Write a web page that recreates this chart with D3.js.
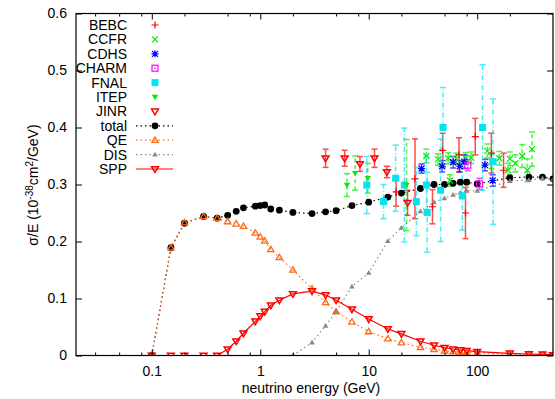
<!DOCTYPE html>
<html>
<head>
<meta charset="utf-8">
<script src="https://cdn.jsdelivr.net/npm/d3@7"></script>
<style>
  body { margin: 0; background: #fff; }
  text { font-family: "Liberation Sans", Arial, sans-serif; }
</style>
</head>
<body>
<script>
// model curves: [energy GeV, sigma/E]
var TOTAL = [[0.1,0],[0.15,0.189],[0.2,0.232],[0.3,0.244],[0.4,0.241],[0.5,0.246],[0.6,0.253],[0.7,0.259],
  [0.9,0.262],[1.0,0.263],[1.1,0.264],[1.25,0.257],[1.5,0.255],[2,0.251],[3,0.249],[4,0.252],[5,0.254],
  [7,0.263],[10,0.269],[15,0.278],[20,0.285],[30,0.293],[40,0.300],[50,0.300],[60,0.302],[70,0.304],
  [80,0.304],[100,0.301],[200,0.312],[300,0.313],[400,0.313],[500,0.310]];
var QE = [[0.1,0],[0.15,0.189],[0.2,0.233],[0.3,0.244],[0.4,0.241],[0.5,0.235],[0.6,0.231],[0.7,0.227],
  [0.9,0.215],[1.0,0.208],[1.1,0.201],[1.25,0.186],[1.5,0.172],[2,0.150],[3,0.117],[4,0.093],[5,0.077],
  [7,0.059],[10,0.042],[15,0.0295],[20,0.0225],[30,0.0144],[40,0.0109],[50,0.008],[60,0.0067],[70,0.006],
  [80,0.0056],[100,0.0044],[200,0.002],[300,0.0015],[400,0.001],[500,0.001]];
var DIS = [[2,0],[3,0.023],[4,0.052],[5,0.077],[7,0.121],[10,0.145],[15,0.201],[20,0.224],[30,0.253],
  [40,0.269],[50,0.276],[60,0.282],[70,0.286],[80,0.289],[100,0.289],[200,0.306],[300,0.308],[400,0.311],[500,0.309]];
var SPP = [[0.1,0],[0.15,0],[0.2,0],[0.3,0],[0.4,0],[0.5,0.011],[0.6,0.025],[0.7,0.039],[0.9,0.060],
  [1.0,0.069],[1.1,0.077],[1.25,0.088],[1.5,0.097],[2,0.108],[3,0.113],[4,0.106],[5,0.097],[7,0.081],
  [10,0.064],[15,0.0465],[20,0.038],[30,0.025],[40,0.018],[50,0.0137],[60,0.011],[70,0.0096],[80,0.0084],
  [100,0.0067],[200,0.0039],[300,0.0026],[400,0.002],[500,0.001]];

// measurements: [energy GeV, sigma/E, error]
var BEBC = [[17.9,0.287,0.025],[26.7,0.31,0.07],[38.7,0.261,0.030],[48,0.360,0.030],[68,0.352,0.030],
  [78,0.250,0.045],[96,0.384,0.032],[135,0.355,0.035],[175,0.325,0.030]];
var CCFR = [[34,0.350,0.012],[43.5,0.344,0.010],[54,0.346,0.010],[56,0.307,0.010],[64,0.345,0.010],
  [78,0.346,0.010],[88,0.347,0.010],[124,0.359,0.012],[135,0.340,0.012],[160,0.346,0.012],
  [193,0.325,0.012],[200,0.345,0.012],[225,0.337,0.015],[260,0.350,0.020],[290,0.325,0.020],[320,0.362,0.030]];
var CDHS = [[30.7,0.328,0.008],[47.5,0.332,0.010],[60,0.339,0.010],[69,0.332,0.010],[76,0.340,0.012],
  [118,0.334,0.010],[139,0.307,0.010]];
var CHARM = [[82,0.334,0.010],[105,0.301,0.010]];
var FNAL = [[9.6,0.299,0.050],[13.7,0.270,0.030],[17.7,0.311,0.058],[21.3,0.299,0.100],[27.5,0.270,0.060],
  [34,0.299,0.050],[34.6,0.251,0.070],[46,0.290,0.090],[48.4,0.400,0.070],[73,0.280,0.060],
  [112,0.400,0.110],[140,0.340,0.110]];
var ITEP = [[6.3,0.299,0.020],[7.5,0.320,0.030],[9.8,0.311,0.026],[22.3,0.299,0.080]];
var JINR = [[4,0.346,0.016],[6,0.346,0.014],[8.3,0.336,0.013],[11.3,0.346,0.016],[14.7,0.322,0.010],
  [22.8,0.268,0.022]];

var X_TICKS = [0.1, 1, 10, 100];
var X_MINOR = [0.03, 0.05, 0.08, 0.2, 0.5, 0.8, 2, 5, 8, 20, 50, 80, 200];
var Y_TICKS = [0, 0.1, 0.2, 0.3, 0.4, 0.5, 0.6];

// view
var W = 555, H = 399;
var FONT = 14;
var x = d3.scaleLog().domain([0.02, 500]).range([76, 553]);
var y = d3.scaleLinear().domain([0, 0.6]).range([355.5, 13.5]);

var svg = d3.select("body").append("svg").attr("width", W).attr("height", H);
var plot = svg.append("g");

// frame + ticks
var fmt = function(d) { return d >= 1 ? d3.format("d")(d) : String(d); };
function noDomain(g) { g.select(".domain").remove(); }
svg.append("g").attr("transform", "translate(0,355.5)")
  .call(d3.axisBottom(x).tickValues(X_TICKS).tickFormat(fmt).tickSize(-6).tickPadding(11)).call(noDomain);
svg.append("g").attr("transform", "translate(0,13.5)")
  .call(d3.axisTop(x).tickValues(X_TICKS).tickFormat("").tickSize(-6)).call(noDomain);
svg.append("g").attr("transform", "translate(0,355.5)")
  .call(d3.axisBottom(x).tickValues(X_MINOR).tickFormat("").tickSize(-3)).call(noDomain);
svg.append("g").attr("transform", "translate(0,13.5)")
  .call(d3.axisTop(x).tickValues(X_MINOR).tickFormat("").tickSize(-3)).call(noDomain);
svg.append("g").attr("transform", "translate(76,0)")
  .call(d3.axisLeft(y).tickValues(Y_TICKS).tickFormat(function(d) { return d === 0 ? "0" : d3.format(".1f")(d); })
    .tickSize(-6).tickPadding(9)).call(noDomain);
svg.append("g").attr("transform", "translate(553,0)")
  .call(d3.axisRight(y).tickValues(Y_TICKS).tickFormat("").tickSize(-6)).call(noDomain);
svg.selectAll(".tick line").attr("stroke", "#000").attr("stroke-width", 1);
svg.selectAll(".tick text").attr("font-size", FONT).attr("fill", "#000")
  .attr("font-family", "Liberation Sans, Arial, sans-serif");

// clip
svg.append("clipPath").attr("id", "clip").append("rect")
  .attr("x", 76).attr("y", 13.5).attr("width", 477).attr("height", 342);
plot.attr("clip-path", "url(#clip)");

// marker drawing
function marker(g, type, color) {
  if (type === "plus") {
    g.append("path").attr("d", "M-3.5,0H3.5M0,-3.5V3.5").attr("stroke", color).attr("stroke-width", 1.2).attr("fill", "none");
  } else if (type === "cross") {
    g.append("path").attr("d", "M-3,-3L3,3M-3,3L3,-3").attr("stroke", color).attr("stroke-width", 1.2).attr("fill", "none");
  } else if (type === "star") {
    g.append("path").attr("d", "M-3,-3L3,3M-3,3L3,-3M-3.5,0H3.5M0,-3.5V3.5").attr("stroke", color).attr("stroke-width", 1.2).attr("fill", "none");
  } else if (type === "boxdot") {
    g.append("rect").attr("x", -3).attr("y", -3).attr("width", 6).attr("height", 6).attr("stroke", color).attr("stroke-width", 1.2).attr("fill", "none");
    g.append("rect").attr("x", -0.7).attr("y", -0.7).attr("width", 1.4).attr("height", 1.4).attr("fill", color);
  } else if (type === "box") {
    g.append("rect").attr("x", -3.5).attr("y", -3.5).attr("width", 7).attr("height", 7).attr("fill", color);
  } else if (type === "dtri") {
    g.append("path").attr("d", "M-3.2,-2.2L3.2,-2.2L0,3.2Z").attr("fill", color);
  } else if (type === "dtriOpen") {
    g.append("path").attr("d", "M-3.4,-2.3L3.4,-2.3L0,3.4Z").attr("stroke", color).attr("stroke-width", 1.5).attr("fill", "none");
  } else if (type === "utriOpen") {
    g.append("path").attr("d", "M-3.2,2.2L3.2,2.2L0,-3.2Z").attr("stroke", color).attr("stroke-width", 1.3).attr("fill", "none");
  } else if (type === "utri") {
    g.append("path").attr("d", "M-2.8,2L2.8,2L0,-2.8Z").attr("fill", color);
  } else if (type === "dot") {
    g.append("circle").attr("r", 3.4).attr("fill", color);
  }
}

var measured = [
  { name: "BEBC", data: BEBC, color: "#ff0000", type: "plus", dash: null },
  { name: "CCFR", data: CCFR, color: "#00ee00", type: "cross", dash: "4,3" },
  { name: "CDHS", data: CDHS, color: "#0000ff", type: "star", dash: "2,2" },
  { name: "CHARM", data: CHARM, color: "#ff00ff", type: "boxdot", dash: "4,2,1,2" },
  { name: "FNAL", data: FNAL, color: "#00e5ee", type: "box", dash: "5,2,1,2" },
  { name: "ITEP", data: ITEP, color: "#00ee00", type: "dtri", dash: "4,3" },
  { name: "JINR", data: JINR, color: "#ff0000", type: "dtriOpen", dash: null }
];
var curves = [
  { name: "total", data: TOTAL, color: "#000000", type: "dot", dash: "1.5,3" },
  { name: "QE", data: QE, color: "#ff6a1a", type: "utriOpen", dash: "1.5,3" },
  { name: "DIS", data: DIS, color: "#888888", type: "utri", dash: "1.5,3" },
  { name: "SPP", data: SPP, color: "#ff0000", type: "dtriOpen", dash: null }
];

// error bars
measured.forEach(function(s) {
  var g = plot.append("g").attr("stroke", s.color).attr("stroke-width", 1.5).attr("opacity", 0.7).attr("fill", "none");
  s.data.forEach(function(d) {
    var cx = x(d[0]), y0 = y(d[1] - d[2]), y1 = y(d[1] + d[2]);
    g.append("line").attr("x1", cx).attr("x2", cx).attr("y1", y0).attr("y2", y1).attr("stroke-dasharray", s.dash);
    g.append("line").attr("x1", cx - 3).attr("x2", cx + 3).attr("y1", y0).attr("y2", y0);
    g.append("line").attr("x1", cx - 3).attr("x2", cx + 3).attr("y1", y1).attr("y2", y1);
  });
});

// model curves
var line = d3.line().x(function(d) { return x(d[0]); }).y(function(d) { return y(d[1]); });
curves.forEach(function(s) {
  plot.append("path").datum(s.data).attr("d", line).attr("fill", "none")
    .attr("stroke", s.color).attr("stroke-width", 1.2).attr("stroke-dasharray", s.dash);
});
curves.concat(measured).forEach(function(s) {
  s.data.forEach(function(d) {
    marker(plot.append("g").attr("transform", "translate(" + x(d[0]) + "," + y(d[1]) + ")"), s.type, s.color);
  });
});

// border
svg.append("rect").attr("x", 76).attr("y", 13.5).attr("width", 477).attr("height", 342)
  .attr("fill", "none").attr("stroke", "#000").attr("stroke-width", 1.2);

// legend
var leg = svg.append("g");
measured.concat(curves).forEach(function(s, i) {
  var ly = 25 + i * 14.4;
  leg.append("text").attr("x", 127).attr("y", ly).attr("dy", "0.35em").attr("text-anchor", "end")
    .attr("font-size", FONT).text(s.name);
  if (i >= measured.length) {
    leg.append("line").attr("x1", 136).attr("x2", 173).attr("y1", ly).attr("y2", ly)
      .attr("stroke", s.color).attr("stroke-width", 1.2).attr("stroke-dasharray", s.dash);
  }
  marker(leg.append("g").attr("transform", "translate(155," + ly + ")"), s.type, s.color);
});

// axis labels
svg.append("text").attr("x", 311).attr("y", 393).attr("text-anchor", "middle").attr("font-size", FONT)
  .text("neutrino energy (GeV)");
var yl = svg.append("text").attr("transform", "translate(38,185) rotate(-90)").attr("text-anchor", "middle").attr("font-size", FONT);
yl.append("tspan").text("σ/E (10");
yl.append("tspan").attr("dy", -5).attr("font-size", 10).text("-38");
yl.append("tspan").attr("dy", 5).text("cm");
yl.append("tspan").attr("dy", -5).attr("font-size", 10).text("2");
yl.append("tspan").attr("dy", 5).text("/GeV)");
</script>
</body>
</html>
